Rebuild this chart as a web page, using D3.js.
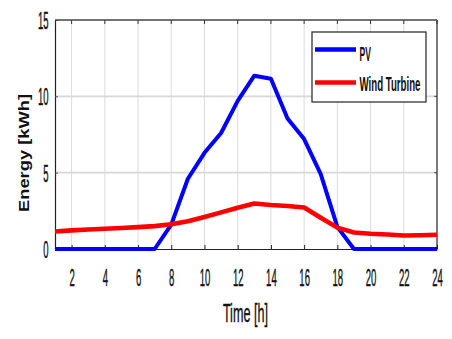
<!DOCTYPE html>
<html><head><meta charset="utf-8">
<script src="https://cdn.jsdelivr.net/npm/d3@7"></script>
<style>
html,body{margin:0;padding:0;background:#fff;}
text{font-family:"Liberation Sans","Arial",sans-serif;}
</style></head><body>
<script>
const hours = [1,2,3,4,5,6,7,8,9,10,11,12,13,14,15,16,17,18,19,20,21,22,23,24];
const pv =   [0,0,0,0,0,0,0,1.6,4.6,6.3,7.6,9.7,11.35,11.15,8.55,7.2,4.9,1.45,0,0,0,0,0,0];
const wind = [1.15,1.22,1.28,1.33,1.38,1.43,1.5,1.62,1.82,2.1,2.4,2.7,2.98,2.88,2.82,2.72,2.05,1.4,1.08,1.0,0.95,0.88,0.9,0.93];
const xTicks = [2,4,6,8,10,12,14,16,18,20,22,24];
const yTicks = [0,5,10,15];
const seriesNames = ["PV","Wind Turbine"];
const seriesColors = ["#0000ff","#ff0000"];

const W=452,H=339;
const svg=d3.select("body").append("svg").attr("width",W).attr("height",H);
const x=d3.scaleLinear().domain([1,24]).range([55,437]);
const y=d3.scaleLinear().domain([0,15]).range([249,20]);
const DIGIT_W=5.3;

// grid
svg.append("g").selectAll("line").data(xTicks.filter(d=>d<24)).join("line")
 .attr("x1",d=>x(d)).attr("x2",d=>x(d)).attr("y1",y(0)).attr("y2",y(15))
 .attr("stroke","#dcdcdc").attr("stroke-width",1);
svg.append("g").selectAll("line").data(yTicks.filter(d=>d>0&&d<15)).join("line")
 .attr("x1",x(1)).attr("x2",x(24)).attr("y1",d=>y(d)).attr("y2",d=>y(d))
 .attr("stroke","#d8d8d8").attr("stroke-width",1.6);

// top ticks inward
svg.append("g").selectAll("line").data(xTicks).join("line")
 .attr("x1",d=>x(d)).attr("x2",d=>x(d)).attr("y1",y(15)).attr("y2",y(15)+4)
 .attr("stroke","#333");
// right ticks inward
svg.append("g").selectAll("line").data([5,10]).join("line")
 .attr("x1",x(24)-3).attr("x2",x(24)).attr("y1",d=>y(d)).attr("y2",d=>y(d)).attr("stroke","#555");

// axes
const xAxis=d3.axisBottom(x).tickValues(xTicks).tickSize(-4).tickSizeOuter(0);
const gx=svg.append("g").attr("transform",`translate(0,${y(0)})`).call(xAxis);
gx.select(".domain").attr("stroke","#222").attr("stroke-width",1.2);
gx.selectAll(".tick line").attr("stroke","#222");
gx.selectAll("text").attr("font-size",23).attr("fill","#111").attr("stroke","#111").attr("stroke-width",0.4)
 .attr("y",37).attr("dy",null)
 .attr("textLength",d=>String(d).length*DIGIT_W).attr("lengthAdjust","spacingAndGlyphs");

const yAxis=d3.axisLeft(y).tickValues(yTicks).tickSize(-3).tickSizeOuter(0);
const gy=svg.append("g").attr("transform",`translate(${x(1)},0)`).call(yAxis);
gy.select(".domain").attr("stroke","#222").attr("stroke-width",1.2);
gy.selectAll(".tick line").attr("stroke","#555");
gy.selectAll("text").attr("font-size",23).attr("fill","#111").attr("stroke","#111").attr("stroke-width",0.4)
 .attr("x",-6.5).attr("dy","0.37em")
 .attr("textLength",d=>String(d).length*DIGIT_W).attr("lengthAdjust","spacingAndGlyphs");

// right and top border
svg.append("line").attr("x1",x(24)).attr("x2",x(24)).attr("y1",y(0)).attr("y2",y(15)).attr("stroke","#222").attr("stroke-width",1.2);
svg.append("line").attr("x1",x(1)).attr("x2",x(24)).attr("y1",y(15)).attr("y2",y(15)).attr("stroke","#444").attr("stroke-width",1.6);

// lines
const line=d3.line().x((d,i)=>x(hours[i])).y(d=>y(d));
[pv,wind].forEach((s,k)=>{
 svg.append("path").datum(s).attr("d",line).attr("fill","none")
  .attr("stroke",seriesColors[k]).attr("stroke-width",k===0?4:4.6).attr("stroke-linejoin","round");
});

// legend
const lg=svg.append("g");
lg.append("rect").attr("x",312).attr("y",32).attr("width",114).attr("height",70)
 .attr("fill","#fff").attr("stroke","#222").attr("stroke-width",1.2);
const legTextLen=[11.4,61];
const legBase=[61,91];
const legLineY=[49.5,82.5];
seriesNames.forEach((n,k)=>{
 lg.append("line").attr("x1",315).attr("x2",356).attr("y1",legLineY[k]).attr("y2",legLineY[k])
  .attr("stroke",seriesColors[k]).attr("stroke-width",4.6);
 lg.append("text").attr("x",359.5).attr("y",legBase[k])
  .attr("font-size",21).attr("font-weight","bold").attr("fill","#111")
  .attr("textLength",legTextLen[k]).attr("lengthAdjust","spacingAndGlyphs").text(n);
});

// axis labels
svg.append("text").attr("x",245.4).attr("y",322).attr("text-anchor","middle")
 .attr("font-size",26).attr("fill","#111").attr("stroke","#111").attr("stroke-width",0.4)
 .attr("textLength",45).attr("lengthAdjust","spacingAndGlyphs").text("Time [h]");
svg.append("text").attr("transform","translate(29,153) rotate(-90)").attr("text-anchor","middle")
 .attr("font-size",15.5).attr("font-weight","bold").attr("fill","#111")
 .attr("textLength",118).attr("lengthAdjust","spacingAndGlyphs").text("Energy [kWh]");
</script>
</body></html>
